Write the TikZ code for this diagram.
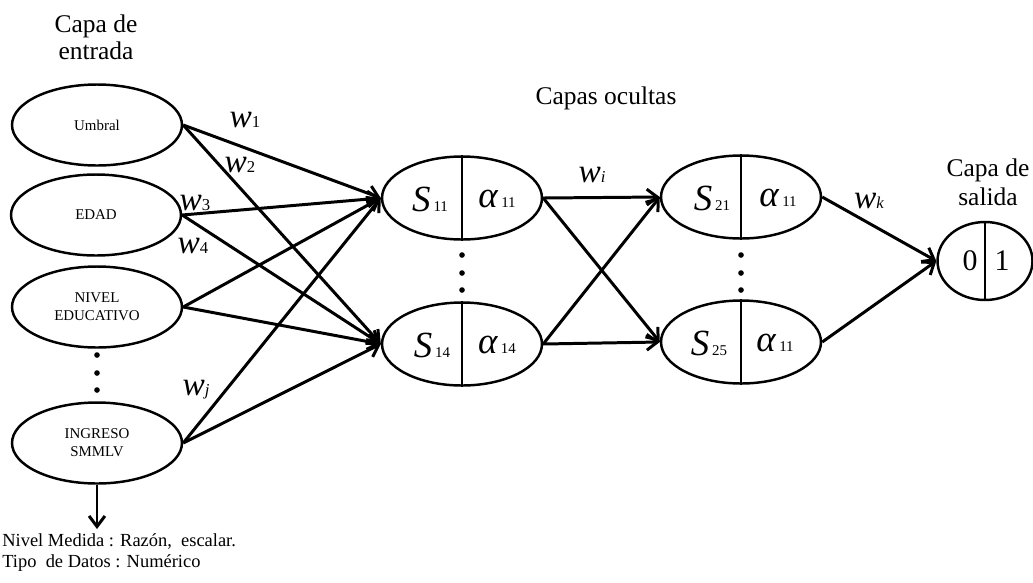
\documentclass[tikz,border=0pt]{standalone}
\usepackage{fontspec}
\setmainfont{Liberation Serif}
\usetikzlibrary{positioning,arrows.meta,shapes.geometric}

\newcommand{\capaS}[1]{{\fontsize{21}{21}\selectfont\textit{S}}\,{\fontsize{8.5}{10}\selectfont #1}}
\newcommand{\capaA}[1]{{\fontsize{21}{21}\selectfont\textit{α}}\,{\fontsize{8.5}{10}\selectfont #1}}
\newcommand{\pesow}[1]{\textit{w}{\fontsize{9.5}{10}\selectfont #1}}

\tikzset{
  entrada/.style={draw, ellipse, line width=1.4pt, inner sep=0pt,
    minimum width=3.4cm, minimum height=1.62cm, align=center,
    font=\fontsize{8.5}{10.2}\selectfont},
  oculta/.style={draw, ellipse, line width=1.4pt,
    minimum width=3.2cm, minimum height=1.66cm},
  salida/.style={draw, ellipse, line width=1.4pt,
    minimum width=1.9cm, minimum height=1.56cm},
  divisor/.style={line width=0.6pt},
  peso/.style={inner sep=0pt, font=\fontsize{19}{19}\selectfont},
  titulo/.style={align=center, font=\fontsize{14.5}{15.5}\selectfont},
  flecha/.style={-{Straight Barb[length=6pt,width=9pt]}, line width=1.7pt},
  punto/.style={circle, fill, inner sep=0pt, minimum size=3.2pt},
}

\begin{document}
\begin{tikzpicture}[x=0.02cm, y=-0.02cm]
  \useasboundingbox (0,0) rectangle (1033,582);

  % titulos
  \node[titulo] (tentrada) at (96,37) {Capa de\\entrada};
  \node[titulo] (tocultas) at (606,98) {Capas ocultas};
  \node[titulo, font=\fontsize{14.5}{16.4}\selectfont] (tsalida) at (988,182) {Capa de\\salida};

  % capa de entrada
  \node[entrada] (umbral) at (97,125) {Umbral};
  \node[entrada] (edad) at (96,215) {EDAD};
  \node[entrada] (nivel) at (97,307) {NIVEL\\EDUCATIVO};
  \node[entrada] (ingreso) at (97,443) {INGRESO\\SMMLV};
  \foreach \y in {355,373,390}
    \node[punto] (pe\y) at (97,\y) {};

  % capas ocultas
  \node[oculta] (h11) at (462,198) {};
  \node[oculta] (h14) at (462,344) {};
  \node[oculta] (h21) at (741,197) {};
  \node[oculta] (h25) at (741,342) {};
  \foreach \n in {h11,h14,h21,h25}
    \draw[divisor] (\n.north) -- (\n.south);
  \node (s11) at (430,199) {\capaS{11}};
  \node (a11) at (497,199) {\capaA{11}};
  \node (s14) at (432,345) {\capaS{14}};
  \node (a14) at (497,345) {\capaA{14}};
  \node (s21) at (712,198) {\capaS{21}};
  \node (b11) at (778,198) {\capaA{11}};
  \node (s25) at (709,343) {\capaS{25}};
  \node (b25) at (775,343) {\capaA{11}};
  \foreach \y in {255,273,290} {
    \node[punto] (po\y) at (462,\y) {};
    \node[punto] (pt\y) at (741,\y) {};
  }

  % capa de salida
  \node[salida] (out) at (985,261) {};
  \draw[divisor] (out.north) -- (out.south);
  \node[font=\fontsize{17}{17}\selectfont] (cero) at (970,261) {0};
  \node[font=\fontsize{17}{17}\selectfont] (uno) at (1002,261) {1};

  % conexiones
  \path[flecha]
    (umbral.east) edge (h11.west)
    (umbral.east) edge (h14.west)
    (edad.east) edge (h11.west)
    (edad.east) edge (h14.west)
    (nivel.east) edge (h11.west)
    (nivel.east) edge (h14.west)
    (ingreso.east) edge (h11.west)
    (ingreso.east) edge (h14.west)
    (h11.east) edge (h21.west)
    (h11.east) edge (h25.west)
    (h14.east) edge (h21.west)
    (h14.east) edge (h25.west)
    (h21.east) edge (out.west)
    (h25.east) edge (out.west);

  % pesos
  \node[peso] (w1) at (245,120) {\pesow{1}};
  \node[peso] (w2) at (240,165) {\pesow{2}};
  \node[peso] (w3) at (195,203) {\pesow{3}};
  \node[peso] (w4) at (193,246) {\pesow{4}};
  \node[peso] (wj) at (196,390) {\pesow{\textit{j}}};
  \node[peso] (wi) at (592,175) {\pesow{\textit{i}}};
  \node[peso] (wk) at (869,201) {\pesow{\textit{k}}};

  % nota
  \node[anchor=north west, align=left, inner sep=0pt,
    font=\fontsize{10.5}{12}\selectfont] (nota) at (2,533)
    {Nivel Medida : Razón,\ \ escalar.\\Tipo\ \ de Datos : Numérico};
  \coordinate (punta) at (97,529);
  \draw[flecha] (ingreso.south) -- (punta);
\end{tikzpicture}
\end{document}
